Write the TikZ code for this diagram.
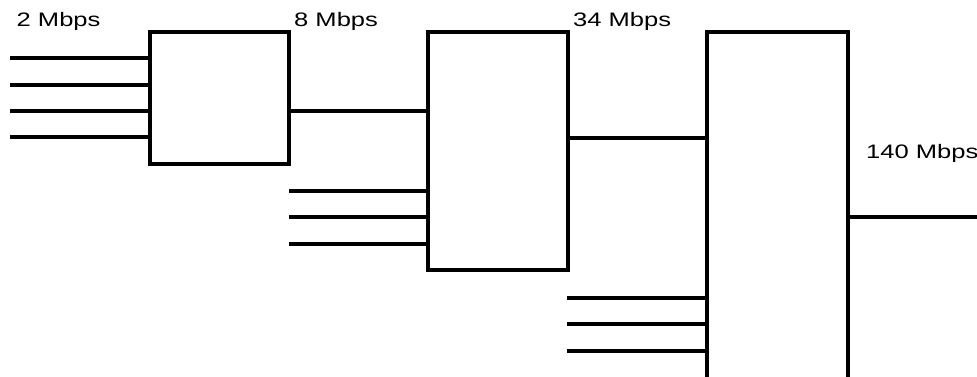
\documentclass[tikz,border=0pt]{standalone}
\usepackage{fontspec}
\setmainfont{Liberation Sans}
\tikzset{
  muxbox/.style={draw, line width=3.3pt, inner sep=0pt, outer sep=0pt, fill=white},
  wire/.style={line width=3.3pt},
  rate/.style={anchor=base west, inner sep=0pt, font=\fontsize{19.5pt}{21pt}\selectfont}
}
\newcommand{\ratetext}[1]{\scalebox{1.31}[1]{#1}}
\begin{document}
\begin{tikzpicture}[x=1pt,y=-1pt]
\useasboundingbox (0,0) rectangle (977,376);
\clip (0,0) rectangle (977,376);
% boxes
\node[muxbox, minimum width=139pt, minimum height=132pt] (b1) at (219.5,98) {};
\node[muxbox, minimum width=140pt, minimum height=238pt] (b2) at (498,151) {};
\node[muxbox, minimum width=141pt, minimum height=368pt] (b3) at (777.5,216) {};
% free ends
\coordinate (i1) at (10,58);
\coordinate (i2) at (10,85);
\coordinate (i3) at (10,111);
\coordinate (i4) at (10,137);
\coordinate (j1) at (289,191);
\coordinate (j2) at (289,217);
\coordinate (j3) at (289,244);
\coordinate (k1) at (567,298);
\coordinate (k2) at (567,324);
\coordinate (k3) at (567,351);
\coordinate (o1) at (980,217);
% box-to-box links
\coordinate (m1) at (0,111);
\coordinate (m2) at (0,138);
% wires
\foreach \c in {i1,i2,i3,i4} \draw[wire] (\c) -- (\c -| b1.west);
\foreach \c in {j1,j2,j3} \draw[wire] (\c) -- (\c -| b2.west);
\foreach \c in {k1,k2,k3} \draw[wire] (\c) -- (\c -| b3.west);
\draw[wire] (m1 -| b1.east) -- (m1 -| b2.west);
\draw[wire] (m2 -| b2.east) -- (m2 -| b3.west);
\draw[wire] (o1 -| b3.east) -- (o1);
% labels
\node[rate] (l1) at (16.5,26.5) {\ratetext{2 Mbps}};
\node[rate] (l2) at (294,26.5) {\ratetext{8 Mbps}};
\node[rate] (l3) at (573,26.5) {\ratetext{34 Mbps}};
\node[rate] (l4) at (866,158.3) {\ratetext{140 Mbps}};
\end{tikzpicture}
\end{document}
